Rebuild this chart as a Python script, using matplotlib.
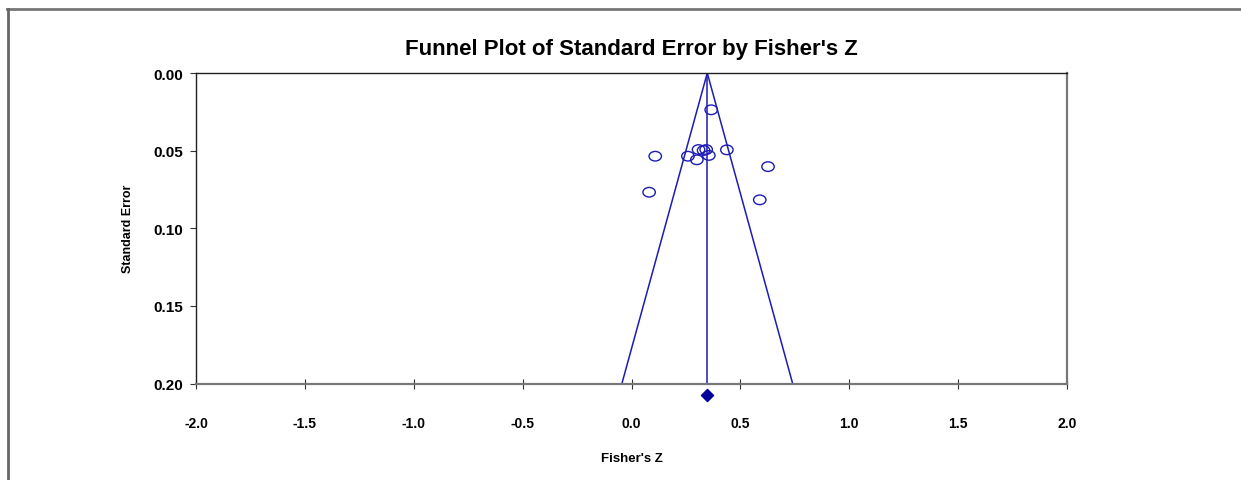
import numpy as np
import matplotlib.pyplot as plt
from matplotlib.path import Path
from matplotlib.transforms import Affine2D
from matplotlib.lines import Line2D

plt.rcParams['font.family'] = ['Liberation Sans', 'DejaVu Sans']

# studies: Fisher's Z and standard error
fisher_z = [0.366, 0.109, 0.259, 0.308, 0.300, 0.331, 0.343, 0.355, 0.438, 0.627, 0.081, 0.589]
std_err = [0.0237, 0.0536, 0.0536, 0.0493, 0.0559, 0.0499, 0.0493, 0.0531, 0.0495, 0.0603, 0.0768, 0.0817]

# pooled estimate
pooled_z = 0.348
se_max = 0.20

x_ticks = [-2.0, -1.5, -1.0, -0.5, 0.0, 0.5, 1.0, 1.5, 2.0]
y_ticks = [0.00, 0.05, 0.10, 0.15, 0.20]

blue = '#1c1cb4'

fig = plt.figure(figsize=(12.41, 4.81), dpi=100)
ax = fig.add_axes([196 / 1241, 1 - 384.5 / 481, (1067 - 196) / 1241, (384.5 - 74) / 481])

# funnel lines (95% limits)
se_line = np.array([0.0, se_max])
ax.plot(pooled_z - 1.96 * se_line, se_line, color=blue, lw=1.1)
ax.plot(pooled_z + 1.96 * se_line, se_line, color=blue, lw=1.1)
ax.plot([pooled_z, pooled_z], [0.0, se_max], color=blue, lw=1.1)

# elliptical open markers
ellipse = Path.unit_circle().transformed(Affine2D().scale(1.3, 1.0))
ax.scatter(fisher_z, std_err, marker=ellipse, s=80, facecolors='none',
           edgecolors=blue, linewidths=1.0, zorder=3)

# pooled diamond below axis
ax.scatter([pooled_z], [0.2077], marker='D', s=38, color='#00009c', clip_on=False, zorder=4)

ax.set_xlim(-2.0, 2.0)
ax.set_ylim(0.20, 0.00)
ax.set_xticks(x_ticks)
ax.set_xticklabels([f'{v:.1f}' for v in x_ticks], fontsize=10, fontweight='bold')
ax.set_yticks(y_ticks)
ax.set_yticklabels([f'{v:.2f}' for v in y_ticks], fontsize=11, fontweight='bold')
ax.tick_params(axis='x', direction='inout', length=7, pad=20, color='#333333')
ax.tick_params(axis='y', direction='out', length=4, pad=5, color='#333333')

for s in ['top', 'left']:
    ax.spines[s].set_color('#222222')
    ax.spines[s].set_linewidth(1.0)
for s in ['bottom', 'right']:
    ax.spines[s].set_color('#777777')
    ax.spines[s].set_linewidth(1.6)

ax.set_title("Funnel Plot of Standard Error by Fisher's Z", fontsize=16, fontweight='bold', pad=14)
ax.set_xlabel("Fisher's Z", fontsize=9.5, fontweight='bold', labelpad=16)
ax.set_ylabel('Standard Error', fontsize=9, fontweight='bold', labelpad=14)

# outer frame lines
fig.add_artist(Line2D([7 / 1241, 1.0], [1 - 9.5 / 481, 1 - 9.5 / 481], color='#777777', lw=2))
fig.add_artist(Line2D([7.5 / 1241, 7.5 / 1241], [0, 1 - 9.5 / 481], color='#666666', lw=2))

fig.savefig('out.png', dpi=100)
